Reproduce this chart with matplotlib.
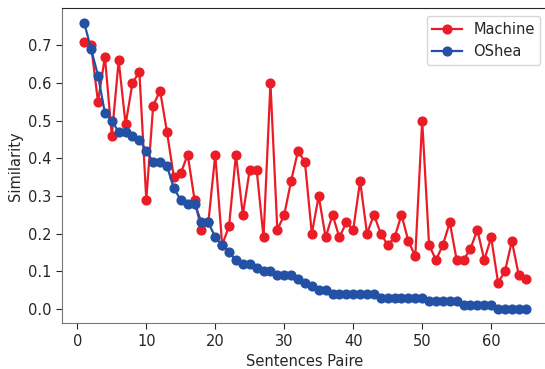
import numpy as np
import matplotlib
matplotlib.use("Agg")
import matplotlib.pyplot as plt

pairs = list(range(1, 66))

machine = [0.71, 0.70, 0.55, 0.67, 0.46, 0.66, 0.49, 0.60, 0.63, 0.29,
           0.54, 0.58, 0.47, 0.35, 0.36, 0.41, 0.29, 0.21, 0.23, 0.41,
           0.17, 0.22, 0.41, 0.25, 0.37, 0.37, 0.19, 0.60, 0.21, 0.25,
           0.34, 0.42, 0.39, 0.20, 0.30, 0.19, 0.25, 0.19, 0.23, 0.21,
           0.34, 0.20, 0.25, 0.20, 0.17, 0.19, 0.25, 0.18, 0.14, 0.50,
           0.17, 0.13, 0.17, 0.23, 0.13, 0.13, 0.16, 0.21, 0.13, 0.19,
           0.07, 0.10, 0.18, 0.09, 0.08]

oshea = [0.76, 0.69, 0.62, 0.52, 0.50, 0.47, 0.47, 0.46, 0.45, 0.42,
         0.39, 0.39, 0.38, 0.32, 0.29, 0.28, 0.28, 0.23, 0.23, 0.19,
         0.17, 0.15, 0.13, 0.12, 0.12, 0.11, 0.10, 0.10, 0.09, 0.09,
         0.09, 0.08, 0.07, 0.06, 0.05, 0.05, 0.04, 0.04, 0.04, 0.04,
         0.04, 0.04, 0.04, 0.03, 0.03, 0.03, 0.03, 0.03, 0.03, 0.03,
         0.02, 0.02, 0.02, 0.02, 0.02, 0.01, 0.01, 0.01, 0.01, 0.01,
         0.00, 0.00, 0.00, 0.00, 0.00]

text_col = '#262626'
fs = 10.5
plt.rcParams['font.family'] = 'DejaVu Sans'

fig, ax = plt.subplots(figsize=(5.45, 3.69), dpi=100)
# right edge of the axes falls just outside the picture, as in the original crop
fig.subplots_adjust(left=0.114, right=1.005, top=0.977, bottom=0.124)

ax.plot(pairs, machine, color='#ea1c26', marker='o', markersize=6.3, linewidth=1.6, label='Machine')
ax.plot(pairs, oshea, color='#2251a5', marker='o', markersize=6.3, linewidth=1.6, label='OShea')

ax.set_xlim(-2.2, 68.2)
ax.set_ylim(-0.038, 0.798)
ax.set_xticks(np.arange(0, 70, 10))
ax.set_yticks(np.arange(0, 0.71, 0.1))
ax.set_yticklabels(['{:.1f}'.format(v) for v in np.arange(0, 0.71, 0.1)])

ax.set_xlabel('Sentences Paire', fontsize=fs, color=text_col)
ax.set_ylabel('Similarity', fontsize=fs, color=text_col)
ax.tick_params(labelsize=fs, colors=text_col, length=4)

ax.spines['top'].set_color('#262626')
ax.spines['right'].set_color('#262626')
ax.spines['left'].set_color('#777777')
ax.spines['bottom'].set_color('#777777')

leg = ax.legend(loc='upper right', fontsize=fs, frameon=True)
for t in leg.get_texts():
    t.set_color(text_col)

plt.savefig('out.png', dpi=100)
